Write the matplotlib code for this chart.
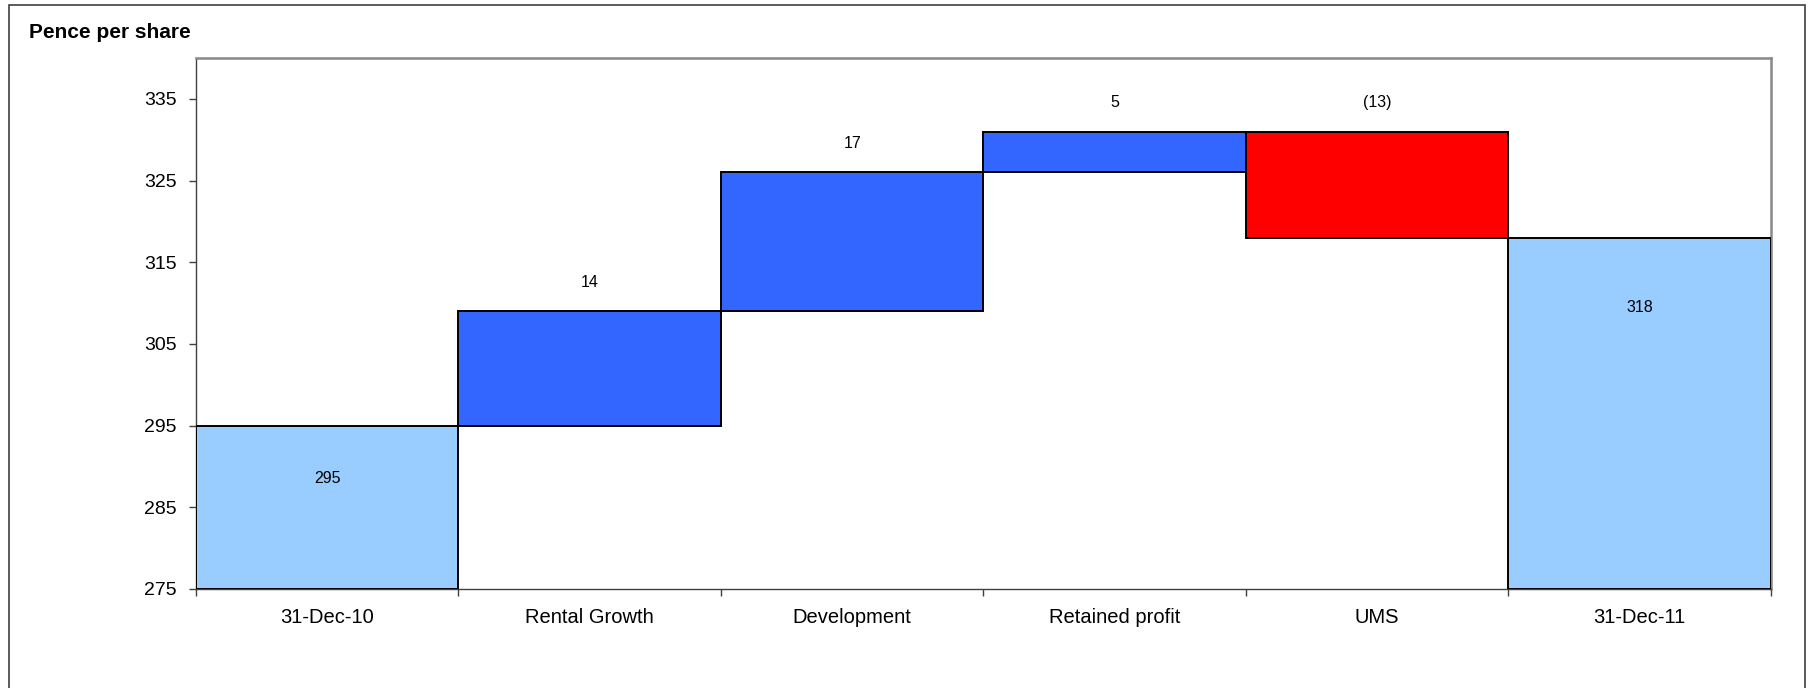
import matplotlib.pyplot as plt
from matplotlib.patches import Rectangle

plt.rcParams['font.family'] = ['Liberation Sans', 'DejaVu Sans']

# waterfall: opening value, movements, closing value
categories = ['31-Dec-10', 'Rental Growth', 'Development', 'Retained profit', 'UMS', '31-Dec-11']
opening = 295
changes = [14, 17, 5, -13]
closing = 318
value_labels = ['295', '14', '17', '5', '(13)', '318']
y_ticks = [275, 285, 295, 305, 315, 325, 335]

total_color = '#99CCFF'
up_color = '#3366FF'
down_color = '#FF0000'

fig = plt.figure(figsize=(18.14, 6.88), dpi=100)
ax = fig.add_axes([0.1080, 0.1439, 0.8683, 0.7718])

base = 275
bottoms, heights, colors = [], [], []
bottoms.append(base)
heights.append(opening - base)
colors.append(total_color)
level = opening
for c in changes:
    if c >= 0:
        bottoms.append(level)
        heights.append(c)
        colors.append(up_color)
    else:
        bottoms.append(level + c)
        heights.append(-c)
        colors.append(down_color)
    level += c
bottoms.append(base)
heights.append(closing - base)
colors.append(total_color)

x = list(range(len(categories)))
ax.bar(x, heights, bottom=bottoms, width=1.0, color=colors,
       edgecolor='black', linewidth=1.4, zorder=3)

# value labels: movements above the bar, totals inside
for i, lab in enumerate(value_labels):
    top = bottoms[i] + heights[i]
    if i == 0 or i == len(categories) - 1:
        off = -38 if i == 0 else -50
    else:
        off = 21
    ax.annotate(lab, (x[i], top), xytext=(0, off), textcoords='offset points',
                ha='center', va='center', fontsize=11.5)

ax.set_xlim(-0.5, len(categories) - 0.5)
ax.set_ylim(275, 340)
ax.set_yticks(y_ticks)
ax.set_xticks(x)
ax.set_xticklabels(categories)
ax.set_xticks([i - 0.5 for i in range(len(categories) + 1)], minor=True)

ax.tick_params(axis='y', direction='out', length=5, width=1, color='#404040',
               labelsize=14, pad=9)
ax.tick_params(axis='x', which='major', length=0, labelsize=14.5, pad=14)
ax.tick_params(axis='x', which='minor', direction='out', length=5, width=1,
               color='#404040')

for side in ['left', 'bottom']:
    ax.spines[side].set_color('#404040')
    ax.spines[side].set_linewidth(1.0)
for side in ['top', 'right']:
    ax.spines[side].set_color('#888888')
    ax.spines[side].set_linewidth(1.8)

fig.text(29 / 1814, 1 - 33 / 688, 'Pence per share', fontsize=15,
         fontweight='bold', ha='left', va='center')

# outer chart border
fig.patches.append(Rectangle((9 / 1814, -0.1), (1805 - 9) / 1814, 1.1 - 5 / 688,
                             transform=fig.transFigure, fill=False,
                             edgecolor='#404040', linewidth=1.2))

fig.savefig('out.png', dpi=100)
